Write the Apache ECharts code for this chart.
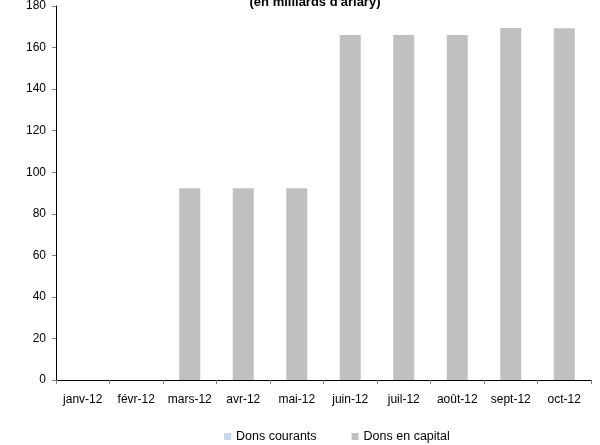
<!DOCTYPE html>
<html>
<head>
<meta charset="utf-8">
<script src="https://cdn.jsdelivr.net/npm/echarts@6/dist/echarts.min.js"></script>
<style>html,body{margin:0;padding:0;background:#fff;}#c{width:600px;height:445px;}</style>
</head>
<body>
<div id="c"></div>
<script>
var categories = ['janv-12','févr-12','mars-12','avr-12','mai-12','juin-12','juil-12','août-12','sept-12','oct-12'];
var donsCourants = [0,0,0,0,0,0,0,0,0,0];
var donsCapital = [0,0,92.3,92.3,92.3,166.1,166.1,166.1,169.4,169.3];
var yTicks = {min:0, max:180, interval:20};

var chart = echarts.init(document.getElementById('c'), null, {renderer:'canvas'});
var font = 'Liberation Sans, Arial, sans-serif';
chart.setOption({
  animation:false,
  title:{text:"(en milliards d'ariary)", left:310, textAlign:'center', top:-9,
    textStyle:{fontFamily:font, fontSize:13, fontWeight:'bold', color:'#000'}},
  grid:{left:56, right:9, top:5, bottom:65},
  legend:{bottom:-3, left:219, itemWidth:7, itemHeight:7, itemGap:35,
    textStyle:{fontFamily:font, fontSize:12.5, color:'#000'},
    data:[{name:'Dons courants', icon:'rect'},{name:'Dons en capital', icon:'rect'}]},
  xAxis:{type:'category', data:categories, boundaryGap:true,
    axisLine:{lineStyle:{color:'#000', width:1}},
    axisTick:{show:true, length:4, lineStyle:{color:'#808080'}},
    axisLabel:{fontFamily:font, fontSize:12, color:'#000', margin:14, interval:0}},
  yAxis:{type:'value', min:yTicks.min, max:yTicks.max, interval:yTicks.interval,
    splitLine:{show:false},
    axisLine:{show:true, lineStyle:{color:'#000', width:1}},
    axisTick:{show:true, length:4, lineStyle:{color:'#808080'}},
    axisLabel:{fontFamily:font, fontSize:12, color:'#000', margin:10}},
  series:[
    {name:'Dons courants', type:'bar', stack:'d', data:donsCourants, barWidth:21,
      itemStyle:{color:'#c6d9f1'}},
    {name:'Dons en capital', type:'bar', stack:'d', data:donsCapital, barWidth:21,
      itemStyle:{color:'#c0c0c0'}}
  ]
});
</script>
</body>
</html>
